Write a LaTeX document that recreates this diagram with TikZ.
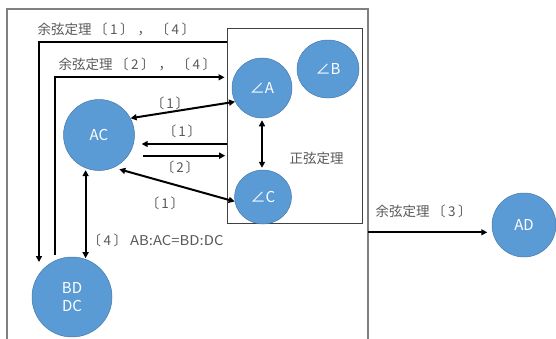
\documentclass[tikz,border=0pt]{standalone}
\usepackage{fontspec}
\setmainfont{Noto Sans CJK JP}
\usetikzlibrary{arrows.meta,shapes.geometric}

\definecolor{ballfill}{RGB}{91,155,213}
\definecolor{ballline}{RGB}{70,120,170}
\definecolor{labelgray}{RGB}{89,89,89}
\definecolor{framegray}{RGB}{128,128,128}
\definecolor{boxgray}{RGB}{64,64,64}

% bracketed step number, e.g. 〔1〕, with a little air inside
\newcommand\kakko[1]{\hspace{2.5pt}〔\hspace{2.5pt}#1\hspace{2.5pt}〕}

\tikzset{
  ball/.style={circle, fill=ballfill, draw=ballline, line width=0.5pt,
    inner sep=0pt, text=white, font=\fontsize{15}{18}\selectfont,
    align=center},
  link/.style={line width=2pt, black,
    arrows={-Triangle[length=6pt,width=6pt]}},
  biglink/.style={line width=2pt, black,
    arrows={Triangle[length=6pt,width=6pt]-Triangle[length=6pt,width=6pt]}},
  lbl/.style={text=labelgray, font=\fontsize{13.5}{16}\selectfont, inner sep=0pt}
}

\begin{document}
\begin{tikzpicture}[x=1pt, y=-1pt]
\useasboundingbox (0,0) rectangle (556,338);

% outer frame (open at the bottom)
\draw[framegray, line width=1.1pt] (7,345) |- (368,9) -- (368,345);

% law-of-sines box
\node[draw=boxgray, line width=0.8pt, rectangle, inner sep=0pt,
      minimum width=135pt, minimum height=195pt, anchor=north west]
      (sinebox) at (226.7,27.7) {};

% quantities
\node[ball, minimum size=60pt] (A)  at (262,88)  {∠A};
\node[ball, ellipse, minimum width=62pt, minimum height=58pt] (B) at (328,69) {∠B};
\node[ball, ellipse, minimum width=57pt, minimum height=54pt] (C) at (263,197) {∠C};
\node[ball, minimum size=71pt] (AC) at (99,135)  {AC};
\node[ball, minimum size=80pt] (BD) at (72,297)  {BD\\DC};
\node[ball, minimum size=64pt] (AD) at (524,225) {AD};

% law-of-cosines routes along the left side
\coordinate (l1s) at (226.7,41.7);
\coordinate (l1e) at (39,262);
\draw[link] (l1s) -| (l1e);
\node[lbl, anchor=west] (t1) at (37.5,29.5)
  {余弦定理\kakko{1}\hspace{4pt}，\hspace{2pt}\kakko{4}};

\coordinate (l2s) at (55,255);
\coordinate (l2e) at (224.5,77.3);
\draw[link] (l2s) |- (l2e);
\node[lbl, anchor=west] (t2) at (58.5,64.5)
  {余弦定理\kakko{2}\hspace{4pt}，\hspace{2pt}\kakko{4}};

% links between AC and the sine box
\draw[biglink] (AC.28) -- (A.207);
\node[lbl] (t3) at (170,103) {〔\hspace{2pt}1\hspace{2pt}〕};

\coordinate (l4e) at (141.7,144);
\draw[link] (l4e -| sinebox.west) -- (l4e);
\node[lbl] (t4) at (182,131) {〔\hspace{2pt}1\hspace{2pt}〕};

\coordinate (l5s) at (142.7,155.7);
\draw[link, shorten >=1.5pt] (l5s) -- (l5s -| sinebox.west);
\node[lbl] (t5) at (180,167) {〔\hspace{2pt}2\hspace{2pt}〕};

\draw[biglink, shorten <=6pt] (AC.294) -- (C.189);
\node[lbl] (t6) at (165,203) {〔\hspace{2pt}1\hspace{2pt}〕};

% angle bisector ratio
\draw[biglink, shorten <=2pt, shorten >=1pt] (AC.248) -- (AC.248 |- BD.70);
\node[lbl, anchor=west] (t7) at (85,240)
  {\kakko{4}\hspace{3pt}\scalebox{1.1}[1]{AB:AC=BD:DC}};

% law of sines between the angles
\draw[biglink, shorten <=2pt, shorten >=2pt] (A.south) -- (A.south |- C.north);
\node[lbl] (t8) at (316.5,158) {正弦定理};

% out to AD
\coordinate (r1) at (368,232.3);
\draw[link, shorten >=4.5pt] (r1) -- (r1 -| AD.west);
\node[lbl, anchor=west] (t9) at (375.5,211.5) {余弦定理\kakko{3}};

\end{tikzpicture}
\end{document}
